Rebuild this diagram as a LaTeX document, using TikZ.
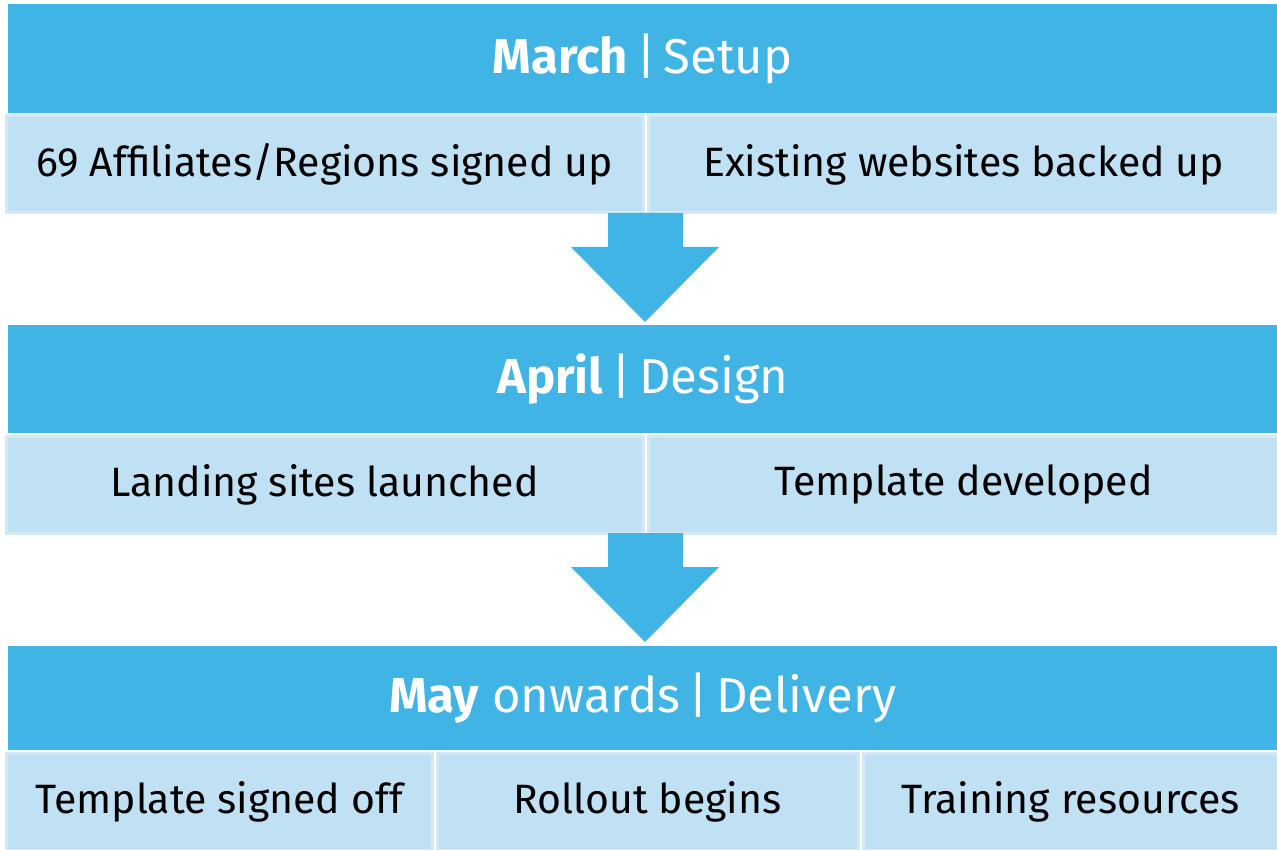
\documentclass[tikz,border=0pt]{standalone}
\usepackage{fontspec}
\setmainfont{Fira Sans}
\definecolor{hdrblue}{RGB}{65,180,230}
\definecolor{boxfill}{RGB}{192,225,244}
\definecolor{boxline}{RGB}{212,233,247}
\newcommand{\sepbar}{\hspace{8pt}|\hspace{8pt}}
\begin{document}
\begin{tikzpicture}[x=1pt,y=-1pt,
  hdr/.style={fill=hdrblue, draw=none, anchor=north west, inner sep=0pt, text=white,
    font=\fontsize{49}{58}\selectfont},
  cell/.style={fill=boxfill, draw=boxline, line width=3pt, anchor=north west, inner sep=0pt,
    minimum height=97pt, text=black, font=\fontsize{41}{48}\selectfont},
  arr/.style={fill=hdrblue, draw=none}]
\useasboundingbox (0,0) rectangle (1277,850);
% headers
\node[hdr, minimum width=1269pt, minimum height=109pt] (h1) at (8,4) {\textbf{March}\sepbar Setup};
\node[hdr, minimum width=1269pt, minimum height=108pt] (h2) at (8,325) {\textbf{April}\sepbar Design};
\node[hdr, minimum width=1269pt, minimum height=104pt] (h3) at (8,646) {\textbf{May} onwards\sepbar Delivery};
% row 1
\node[cell, minimum width=637pt] (a1) at (4.5,114.5) {69 Affiliates/Regions signed up};
\node[cell, minimum width=631pt] (a2) at (646.5,114.5) {Existing websites backed up};
% row 2
\node[cell, minimum width=637pt] (b1) at (4.5,434.5) {Landing sites launched};
\node[cell, minimum width=631pt] (b2) at (646.5,434.5) {Template developed};
% row 3
\node[cell, minimum width=426pt] (c1) at (4.5,751.5) {Template signed off};
\node[cell, minimum width=421pt] (c2) at (435.5,751.5) {Rollout begins};
\node[cell, minimum width=415pt] (c3) at (861.5,751.5) {Training resources};
% arrows
\coordinate (t1) at (645,213);
\coordinate (t2) at (645,533);
\foreach \t in {t1,t2}{
  \fill[arr] ([xshift=-37pt]\t) -- ([xshift=38pt]\t) -- ([xshift=38pt,yshift=-34pt]\t)
    -- ([xshift=74pt,yshift=-34pt]\t) -- ([yshift=-109pt]\t) -- ([xshift=-74pt,yshift=-34pt]\t)
    -- ([xshift=-37pt,yshift=-34pt]\t) -- cycle;
}
\end{tikzpicture}
\end{document}
